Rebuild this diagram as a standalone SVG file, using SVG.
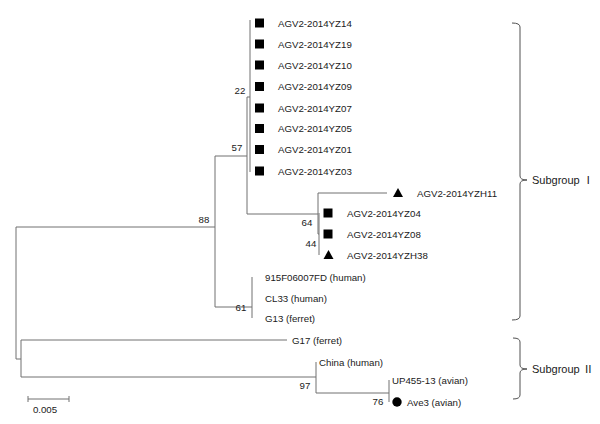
<svg xmlns="http://www.w3.org/2000/svg" width="600" height="424" viewBox="0 0 600 424">
<style>
text{font-family:"Liberation Sans","Noto Sans CJK SC",sans-serif;font-size:9.7px;fill:#1a1a1a}
.sg{font-size:11px}
.rn{font-family:"Noto Sans CJK SC",sans-serif;font-size:11px}
.bs{text-anchor:middle}
.e{fill:none;stroke:#707070;stroke-width:1}
.br{fill:none;stroke:#505050;stroke-width:1}
.sq{fill:#000}
</style>
<defs>
<rect id="sq" x="-4.5" y="-4.5" width="9" height="9" class="sq"/>
<polygon id="tri" points="0,-5 5,4 -5,4" fill="#000"/>
</defs>
<rect width="600" height="424" fill="#fff"/>
<g id="connectors">
<path class="e" d="M16,227V359H21M21,340V377M21,340H287M21,377H316M16,227H215M215,156V307M215,156H247M215,307H252M252,277V318M247,97V214M247,97H250M250,20V172M247,214H318M318,193V234M318,193H387M318,234H319M319,213V255M316,362V393M316,393H389M389,380V402"/>
</g>
<g id="bootstrap">
<text class="bs" x="240" y="94">22</text>
<text class="bs" x="237" y="151">57</text>
<text class="bs" x="204" y="223">88</text>
<text class="bs" x="307" y="226">64</text>
<text class="bs" x="311" y="247">44</text>
<text class="bs" x="241" y="311">61</text>
<text class="bs" x="305" y="389">97</text>
<text class="bs" x="378" y="405">76</text>
</g>
<g id="YZ14"><use href="#sq" x="259.5" y="23"/><text x="278" y="26.5">AGV2-2014YZ14</text></g>
<g id="YZ19"><use href="#sq" x="259.5" y="44"/><text x="278" y="47.5">AGV2-2014YZ19</text></g>
<g id="YZ10"><use href="#sq" x="259.5" y="65"/><text x="278" y="68.5">AGV2-2014YZ10</text></g>
<g id="YZ09"><use href="#sq" x="259.5" y="86.5"/><text x="278" y="90">AGV2-2014YZ09</text></g>
<g id="YZ07"><use href="#sq" x="259.5" y="108"/><text x="278" y="111.5">AGV2-2014YZ07</text></g>
<g id="YZ05"><use href="#sq" x="259.5" y="128.5"/><text x="278" y="132">AGV2-2014YZ05</text></g>
<g id="YZ01"><use href="#sq" x="259.5" y="149.5"/><text x="278" y="153">AGV2-2014YZ01</text></g>
<g id="YZ03"><use href="#sq" x="259.5" y="171"/><text x="278" y="174.5">AGV2-2014YZ03</text></g>
<g id="YZH11"><use href="#tri" x="398" y="193"/><text x="417" y="196.5">AGV2-2014YZH11</text></g>
<g id="YZ04"><use href="#sq" x="328" y="213"/><text x="347" y="216.5">AGV2-2014YZ04</text></g>
<g id="YZ08"><use href="#sq" x="328" y="234"/><text x="347" y="237.5">AGV2-2014YZ08</text></g>
<g id="YZH38"><use href="#tri" x="328.5" y="255"/><text x="347" y="258.5">AGV2-2014YZH38</text></g>
<g id="F915"><text x="265" y="280.5">915F06007FD (human)</text></g>
<g id="CL33"><text x="265" y="301.5">CL33 (human)</text></g>
<g id="G13"><text x="265" y="321.5">G13 (ferret)</text></g>
<g id="G17"><text x="292" y="343.5">G17 (ferret)</text></g>
<g id="China"><text x="319" y="365.5">China (human)</text></g>
<g id="UP455"><text x="392" y="383.5">UP455-13 (avian)</text></g>
<g id="Ave3"><circle cx="397" cy="402" r="4.7" fill="#000"/><text x="407" y="405.5">Ave3 (avian)</text></g>
<g id="subgroup1"><path class="br" d="M512,23Q520,23 520,27V176Q520,180 527,180Q520,180 520,184V316Q520,320 512,320"/><text class="sg" x="532" y="184">Subgroup <tspan class="rn">Ⅰ</tspan></text></g>
<g id="subgroup2"><path class="br" d="M513,338Q520,338 520,342V365Q520,369 527,369Q520,369 520,373V395Q520,399 513,399"/><text class="sg" x="532" y="373">Subgroup <tspan class="rn">Ⅱ</tspan></text></g>
<g id="scale"><path class="e" d="M28,399H69M28,396V402M69,396V402"/><text class="bs" x="45" y="413">0.005</text></g>
</svg>
